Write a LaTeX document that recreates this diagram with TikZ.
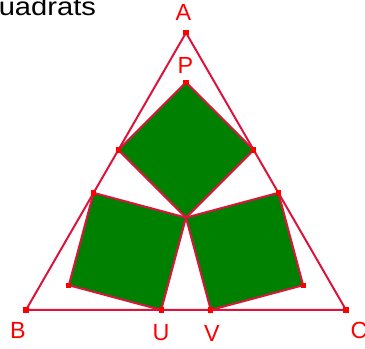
\documentclass[tikz,border=0pt]{standalone}
\usepackage{fontspec}
\setmainfont{Liberation Sans}
\usetikzlibrary{calc}
\definecolor{edgered}{RGB}{220,20,60}
\definecolor{sqgreen}{RGB}{0,128,0}
\tikzset{
  side/.style={edgered, line width=1.5pt, line join=round},
  square/.style={side, fill=sqgreen},
  dot/.style={fill=red, inner sep=0pt, minimum size=4pt},
  lab/.style={red, font=\fontsize{17.5}{20}\selectfont, inner sep=0pt},
}

\begin{document}
\begin{tikzpicture}[x=0.75pt, y=0.75pt]
  \useasboundingbox (0,0) rectangle (365,349);
  \coordinate (O) at (186,131.4);
  % triangle
  \coordinate (A) at ($(O)+(90:184.8)$);
  \coordinate (B) at ($(O)+(210:184.8)$);
  \coordinate (C) at ($(O)+(330:184.8)$);
  % top square
  \coordinate (P) at ($(O)+(90:135.3)$);
  \coordinate (K) at ($(O)+(135:95.66)$);
  \coordinate (M) at ($(O)+(45:95.66)$);
  % left square
  \coordinate (D) at ($(O)+(165:95.66)$);
  \coordinate (E) at ($(O)+(210:135.3)$);
  \coordinate (U) at ($(O)+(255:95.66)$);
  % right square
  \coordinate (G) at ($(O)+(15:95.66)$);
  \coordinate (H) at ($(O)+(330:135.3)$);
  \coordinate (V) at ($(O)+(285:95.66)$);

  \draw[square] (O) -- (K) -- (P) -- (M) -- cycle;
  \draw[square] (O) -- (D) -- (E) -- (U) -- cycle;
  \draw[square] (O) -- (G) -- (H) -- (V) -- cycle;
  \draw[side] (A) -- (B) -- (C) -- cycle;

  \foreach \p in {A,B,C,P,K,M,D,E,U,G,H,V}
    \node[dot] (d\p) at (\p) {};

  \node[lab] (labA) at (183.5,337) {A};
  \node[lab] (labP) at (185.5,284) {P};
  \node[lab] (labB) at (18,19) {B};
  \node[lab] (labU) at (161,16) {U};
  \node[lab] (labV) at (212,16) {V};
  \node[lab] (labC) at (359,19) {C};
  \node[anchor=base west, inner sep=0pt, font=\fontsize{19}{22}\selectfont] (title) at (-1.5,333.5) {\scalebox{1.15}[1]{uadrats}};
\end{tikzpicture}
\end{document}
